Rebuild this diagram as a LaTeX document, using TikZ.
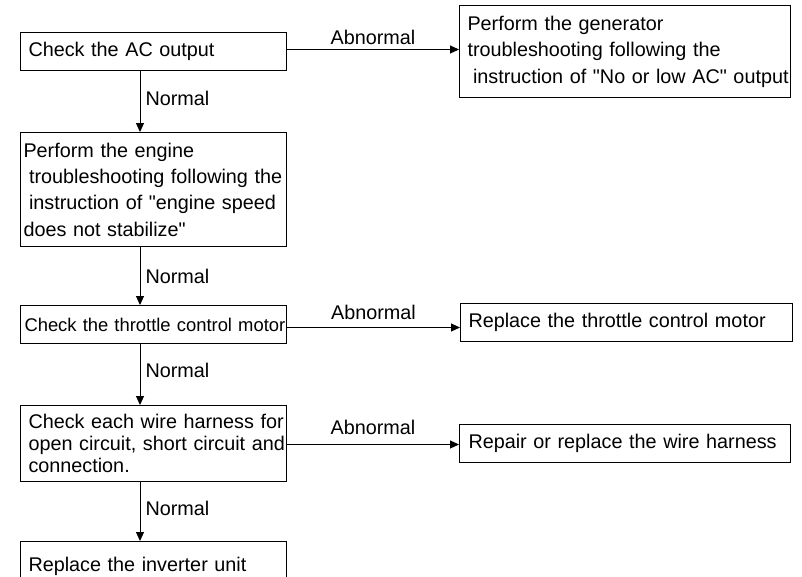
\documentclass[tikz,border=0pt]{standalone}
\usepackage{fontspec}
\setmainfont{Liberation Sans}[Ligatures=TeXOff]
\usetikzlibrary{arrows.meta,calc}
\begin{document}
\begin{tikzpicture}[x=1pt,y=-1pt,
  box/.style={draw, line width=1pt, anchor=north west, align=left, inner ysep=0pt},
  arr/.style={line width=1pt, -{Triangle[length=9pt,width=8pt]}},
  lbl/.style={font=\fontsize{19.8}{22}\selectfont, inner sep=0pt}]
\useasboundingbox (0,0) rectangle (802,576);

\node[box, inner xsep=8pt, text width=250pt, minimum height=38pt,
  font=\fontsize{19.8}{24}\selectfont] (b1) at (20,32) {\mbox{Check the AC output}};
\node[box, inner xsep=8pt, text width=315pt, minimum height=92pt,
  font=\fontsize{19.8}{26.5}\selectfont] (b2) at (459,5)
  {\mbox{Perform the generator}\\\mbox{troubleshooting following the}\\\mbox{\hspace*{5.5pt}instruction of "No or low AC" output}};
\node[box, inner xsep=3pt, text width=260pt, minimum height=114pt,
  font=\fontsize{19.8}{26.3}\selectfont] (b3) at (20,132)
  {\mbox{Perform the engine}\\\mbox{\hspace*{5.5pt}troubleshooting following the}\\\mbox{\hspace*{5.5pt}instruction of "engine speed}\\\mbox{does not stabilize"}};
\node[box, inner xsep=4pt, text width=258pt, minimum height=38pt,
  font=\fontsize{18.4}{22}\selectfont] (b4) at (20,305) {\mbox{Check the throttle control motor}};
\node[box, inner xsep=8pt, text width=316pt, minimum height=38pt,
  font=\fontsize{19.8}{24}\selectfont] (b5) at (460,303) {\mbox{Replace the throttle control motor}};
\node[box, inner xsep=8pt, text width=250pt, minimum height=76pt,
  font=\fontsize{19.8}{22}\selectfont] (b6) at (20,405)
  {\mbox{Check each wire harness for}\\\mbox{open circuit, short circuit and}\\\mbox{connection.}};
\node[box, inner xsep=9pt, text width=313pt, minimum height=38pt,
  font=\fontsize{19.8}{24}\selectfont] (b7) at (459,424) {\mbox{Repair or replace the wire harness}};
\node[box, inner xsep=8pt, text width=250pt, minimum height=50pt,
  font=\fontsize{19.8}{24}\selectfont] (b8) at (20,541) {\mbox{Replace the inverter unit}};

\draw[arr] ([xshift=120pt]b1.south west) -- ([xshift=120pt]b3.north west)
  node[lbl, midway, right=5pt, yshift=3pt] {Normal};
\draw[arr] ([xshift=120pt]b3.south west) -- ([xshift=120pt]b4.north west)
  node[lbl, midway, right=5pt] {Normal};
\draw[arr] ([xshift=120pt]b4.south west) -- ([xshift=120pt]b6.north west)
  node[lbl, midway, right=5pt, yshift=4pt] {Normal};
\draw[arr] ([xshift=120pt]b6.south west) -- ([xshift=120pt]b8.north west)
  node[lbl, midway, right=5pt, yshift=3pt] {Normal};

\draw[arr] ([yshift=2pt]b1.east) -- ([yshift=2pt]b1.east -| b2.west)
  node[lbl, midway, above=4pt] {Abnormal};
\draw[arr] ([yshift=-3pt]b4.east) -- ([yshift=-3pt]b4.east -| b5.west)
  node[lbl, midway, above=7pt] {Abnormal};
\draw[arr] ([yshift=-1pt]b6.east) -- ([yshift=-1pt]b6.east -| b7.west)
  node[lbl, midway, above=9pt] {Abnormal};
\end{tikzpicture}
\end{document}
